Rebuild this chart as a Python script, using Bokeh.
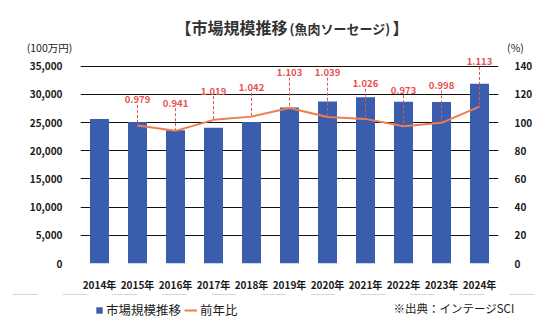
from bokeh.plotting import figure
from bokeh.layouts import column
from bokeh.models import (ColumnDataSource, Range1d, LinearAxis, Label, Legend,
                          LegendItem, FixedTicker, NumeralTickFormatter, FactorRange)
from bokeh.core.properties import value
from bokeh.embed import file_html
from bokeh.resources import INLINE

# ---- data ----
years = ["2014年", "2015年", "2016年", "2017年", "2018年", "2019年",
         "2020年", "2021年", "2022年", "2023年", "2024年"]
market = [25650, 25110, 23630, 24080, 25090, 27680, 28750, 29500, 28700, 28650, 31900]
ratio_years = years[1:]
ratio = [0.979, 0.941, 1.019, 1.042, 1.103, 1.039, 1.026, 0.973, 0.998, 1.113]
ratio_labels = ["0.979", "0.941", "1.019", "1.042", "1.103", "1.039",
                "1.026", "0.973", "0.998", "1.113"]
label_pos = [116.1, 113.8, 122.3, 124.6, 135.4, 135.4, 127.6, 123.0, 126.4, 143.1]
left_ticks = [0, 5000, 10000, 15000, 20000, 25000, 30000, 35000]
right_ticks = [0, 20, 40, 60, 80, 100, 120, 140]

FONT = "Noto Sans CJK JP"
BLUE = "#3A5DAE"
ORANGE = "#EE7D4F"
RED = "#E8504A"
INK = "#1a1a1a"

W = 546
TOP_H, MAIN_H, BOT_H = 54, 240, 30
FRAME_H = MAIN_H - 25          # frame from canvas y=54 to 269
AXIS_PX = 203                  # pixels from 0 to 35000
YMAX = 35000 * FRAME_H / AXIS_PX
PMAX = 140 * FRAME_H / AXIS_PX

src = ColumnDataSource(dict(x=years, y=market))
rsrc = ColumnDataSource(dict(x=ratio_years, y=[r * 100 for r in ratio],
                             ly=label_pos, ly0=[v - 3.6 for v in label_pos],
                             t=ratio_labels))


def blank(h, x_range, y_range):
    f = figure(width=W, height=h, x_range=x_range, y_range=y_range,
               x_axis_type=None, y_axis_type=None,
               output_backend="svg", toolbar_location=None, min_border=0,
               frame_align=False)
    f.grid.visible = False
    f.outline_line_color = None
    f.background_fill_color = "white"
    f.border_fill_color = "white"
    return f


def lab(fig, h, text, x, y, size, align="left", color="#333333", style="bold"):
    # x, y in pixels from the figure's top-left corner
    fig.add_layout(Label(x=x, y=h - y, x_units="screen", y_units="screen", text=text,
                         text_font=FONT, text_font_size=size,
                         text_font_style=style, text_color=color,
                         text_align=align, text_baseline="middle"))


# ---- top: title and axis units ----
top = blank(TOP_H, Range1d(0, W), Range1d(0, TOP_H))
lab(top, TOP_H, "【市場規模推移", 175, 26, "16px")
lab(top, TOP_H, "(魚肉ソーセージ)", 289, 27.5, "13px")
lab(top, TOP_H, "】", 392, 26, "16px")
lab(top, TOP_H, "(100万円)", 49, 47, "10.5px", align="center", color=INK, style="normal")
lab(top, TOP_H, "(%)", 515, 47, "10.5px", align="center", color=INK, style="normal")

# ---- main chart ----
p = figure(width=W, height=MAIN_H, x_range=FactorRange(*years), y_range=Range1d(0, YMAX),
           output_backend="svg", toolbar_location=None, frame_align=False,
           min_border_left=80, min_border_right=48, min_border_top=0, min_border_bottom=25)
p.outline_line_color = None
p.background_fill_color = "white"
p.border_fill_color = "white"
p.extra_y_ranges = {"pct": Range1d(0, PMAX)}

p.xgrid.grid_line_color = None
p.ygrid.grid_line_color = "#111111"
p.ygrid.grid_line_width = 1
p.ygrid.ticker = FixedTicker(ticks=left_ticks)


def style_axis(a, standoff):
    a.axis_line_color = None
    a.major_tick_line_color = None
    a.minor_tick_line_color = None
    a.major_label_standoff = standoff
    a.major_label_text_font = FONT
    a.major_label_text_font_style = "bold"
    a.major_label_text_font_size = "10px"
    a.major_label_text_color = INK


ax = p.yaxis[0]
ax.ticker = FixedTicker(ticks=left_ticks)
ax.formatter = NumeralTickFormatter(format="0,0")
style_axis(ax, 12)

rax = LinearAxis(y_range_name="pct", ticker=FixedTicker(ticks=right_ticks))
style_axis(rax, 10)
p.add_layout(rax, "right")

style_axis(p.xaxis[0], 7)

bar_style = dict(width=0.5, fill_color=BLUE, line_color=None)
line_style = dict(line_color=ORANGE, line_width=2)

p.vbar(x="x", top="y", source=src, **bar_style)
p.segment(x0="x", x1="x", y0="ly0", y1="y", source=rsrc, y_range_name="pct",
          line_color=RED, line_width=1, line_dash="3 2")
p.line(x="x", y="y", source=rsrc, y_range_name="pct", **line_style)
p.text(x="x", y="ly", text="t", source=rsrc, y_range_name="pct",
       text_font=value(FONT), text_font_style="bold", text_font_size="9.5px",
       text_color=RED, text_align="center", text_baseline="middle")

# ---- bottom: legend and source ----
# same series, drawn out of view here; only their legend entries show
bot = blank(BOT_H, FactorRange(*years), Range1d(-2000, -1000))
leg_bar = bot.vbar(x="x", top="y", source=src, **bar_style)
leg_line = bot.line(x="x", y="y", source=rsrc, **line_style)

common = dict(orientation="horizontal", border_line_color=None, background_fill_alpha=0,
              padding=0, margin=0, label_standoff=3, glyph_height=8,
              label_text_font=FONT, label_text_font_size="12.5px", label_text_color=INK,
              label_height=16)
bot.add_layout(Legend(items=[LegendItem(label="市場規模推移", renderers=[leg_bar])],
                      location=(95, 5), glyph_width=8, **common))
bot.add_layout(Legend(items=[LegendItem(label="前年比", renderers=[leg_line])],
                      location=(184, 5), glyph_width=13, **common))
lab(bot, BOT_H, "※出典：インテージSCI", 514, 13, "11.5px", align="right", color=INK, style="normal")

layout = column(top, p, bot, spacing=0)
open("out.html", "w").write(file_html(layout, INLINE))
